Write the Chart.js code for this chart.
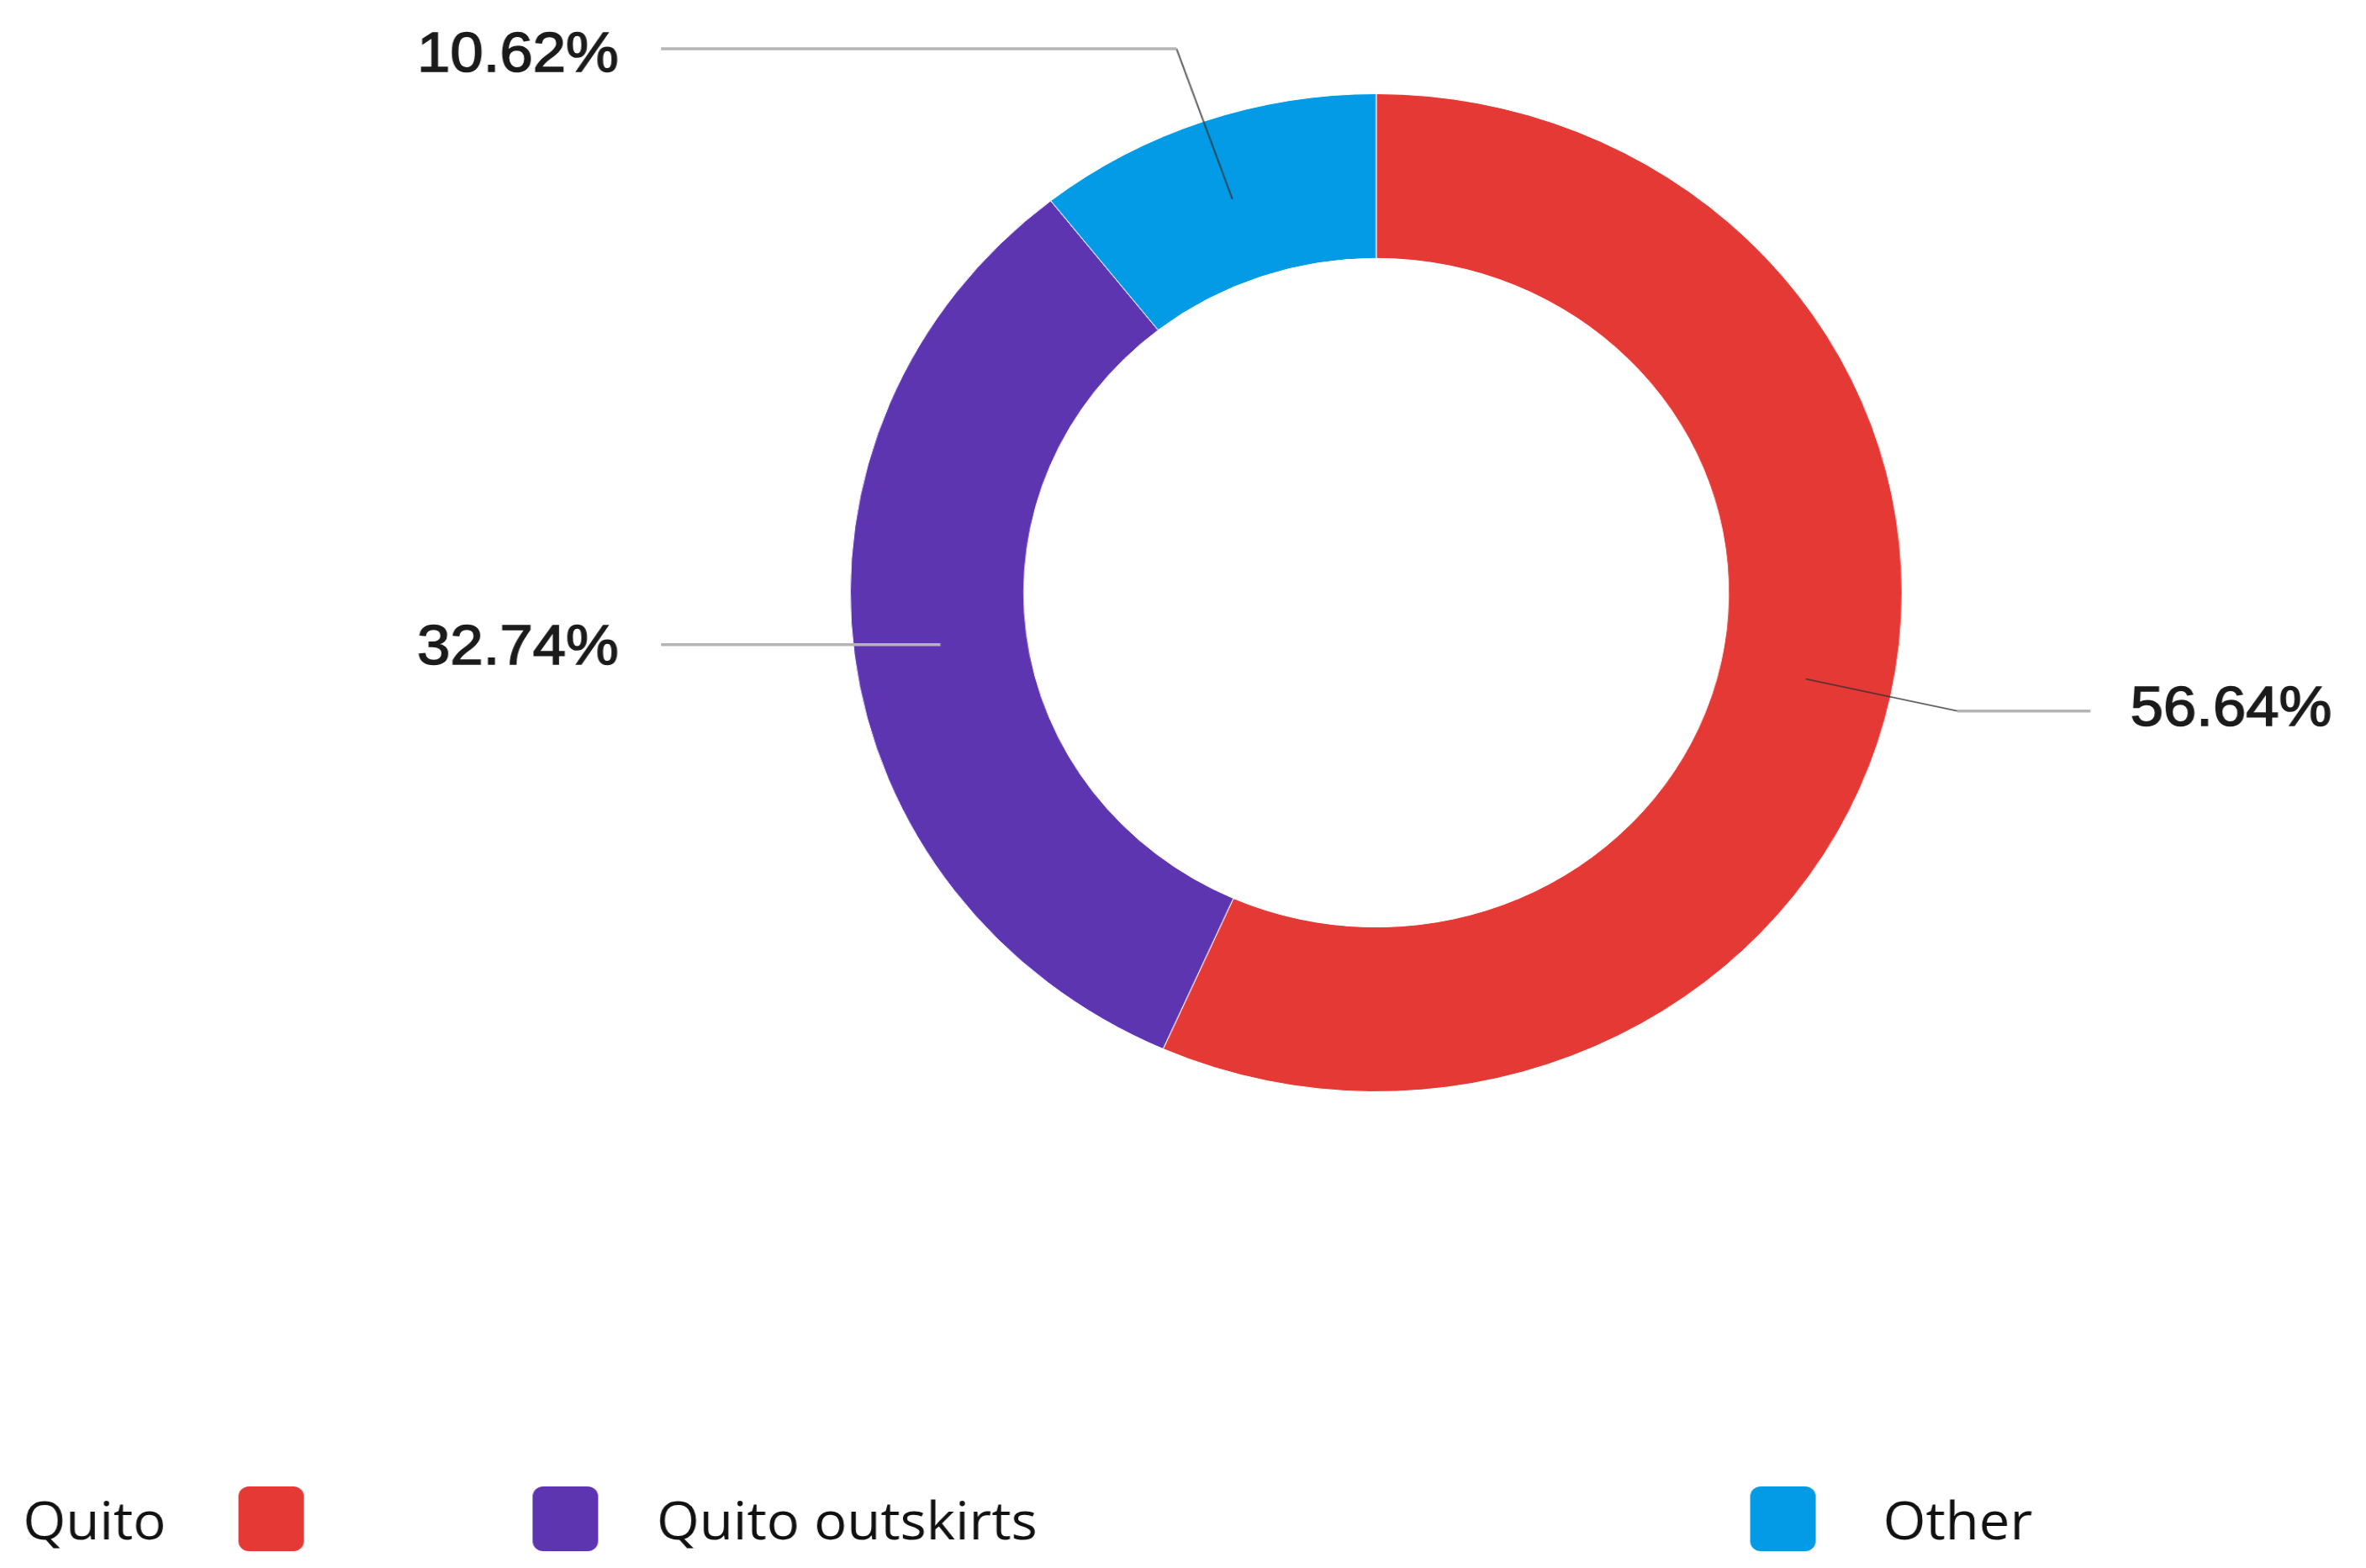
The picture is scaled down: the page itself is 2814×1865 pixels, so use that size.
<!DOCTYPE html>
<html>
<head>
<meta charset="utf-8">
<script src="https://cdn.jsdelivr.net/npm/chart.js@4.4.0/dist/chart.umd.min.js"></script>
<style>
  html, body { margin: 0; padding: 0; background: #fff; overflow: hidden; }
</style>
</head>
<body>
<!-- the source picture is stretched a bit wider than tall, so the drawing buffer is narrower than the page -->
<canvas id="donut" width="2670" height="1865" style="width:2814px;height:1865px;display:block"></canvas>
<script>
// data
var categories = ['Quito', 'Quito outskirts', 'Other'];
var shares = [56.64, 32.74, 10.62];
var sliceColors = ['#E53935', '#5E35B1', '#039BE5'];

// leader line layout, offsets from the slice anchor / chart centre
var leaders = [
  { side: 'right', elbowDx: 171, elbowDy: 38, endDx: 806, textDx: 851, textDy: -1 },
  { side: 'left', elbowDx: 0, elbowDy: 0, endDx: -807, textDx: -855, textDy: 5 },
  { side: 'left', elbowDx: -63, elbowTop: 1.09, endDx: -807, textDx: -855, textDy: 8 }
];

// legend layout
var legendSpots = [
  { box: 269, text: 26 },
  { box: 601, text: 741 },
  { box: 1975, text: 2125 }
];

var leaderPlugin = {
  id: 'leaders',
  afterDatasetsDraw: function(chart) {
    var ctx = chart.ctx;
    var arcs = chart.getDatasetMeta(0).data;
    ctx.save();
    arcs.forEach(function(arc, i) {
      var p = arc.getProps(['x', 'y', 'startAngle', 'endAngle', 'innerRadius', 'outerRadius'], true);
      var mid = (p.startAngle + p.endAngle) / 2;
      var r = (p.innerRadius + p.outerRadius) / 2;
      var ax = p.x + Math.cos(mid) * r;
      var ay = p.y + Math.sin(mid) * r;
      var L = leaders[i];
      var ex = ax + L.elbowDx;
      var ey = L.elbowTop ? p.y - p.outerRadius * L.elbowTop : ay + L.elbowDy;
      var endX = p.x + L.endDx;

      // slice to elbow
      ctx.beginPath();
      ctx.moveTo(ax, ay);
      ctx.lineTo(ex, ey);
      ctx.strokeStyle = 'rgba(50,50,50,0.75)';
      ctx.lineWidth = 2;
      ctx.stroke();

      // horizontal run
      ctx.beginPath();
      ctx.moveTo(ex, ey);
      ctx.lineTo(endX, ey);
      ctx.strokeStyle = '#b5b5b5';
      ctx.lineWidth = 3.5;
      ctx.stroke();

      var txt = shares[i].toFixed(2) + '%';
      var tx = p.x + L.textDx;
      ctx.fillStyle = '#1b1b1b';
      ctx.strokeStyle = '#1b1b1b';
      ctx.lineWidth = 1.6;
      ctx.font = '67px "Liberation Sans", Arial, sans-serif';
      ctx.textBaseline = 'middle';
      ctx.textAlign = L.side === 'left' ? 'right' : 'left';
      ctx.fillText(txt, tx, ey + L.textDy);
      ctx.strokeText(txt, tx, ey + L.textDy);
    });
    ctx.restore();
  }
};

var legendPlugin = {
  id: 'customLegend',
  afterDraw: function(chart) {
    var ctx = chart.ctx;
    ctx.save();
    categories.forEach(function(name, i) {
      var s = legendSpots[i];
      ctx.beginPath();
      ctx.roundRect(s.box, 1768, 74, 77, 12);
      ctx.fillStyle = sliceColors[i];
      ctx.fill();
      ctx.fillStyle = '#111';
      ctx.font = '62px "Open Sans", "Noto Sans", sans-serif';
      ctx.textBaseline = 'middle';
      ctx.textAlign = 'left';
      ctx.fillText(name, s.text, 1813);
    });
    ctx.restore();
  }
};

new Chart(document.getElementById('donut'), {
  type: 'doughnut',
  data: {
    labels: categories,
    datasets: [{
      data: shares,
      backgroundColor: sliceColors,
      borderColor: '#ffffff',
      borderWidth: 1
    }]
  },
  options: {
    responsive: false,
    animation: false,
    cutout: '67%',
    layout: { padding: { top: 111, bottom: 566, left: 436, right: 0 } },
    plugins: {
      legend: { display: false },
      tooltip: { enabled: false }
    }
  },
  plugins: [leaderPlugin, legendPlugin]
});
</script>
</body>
</html>
